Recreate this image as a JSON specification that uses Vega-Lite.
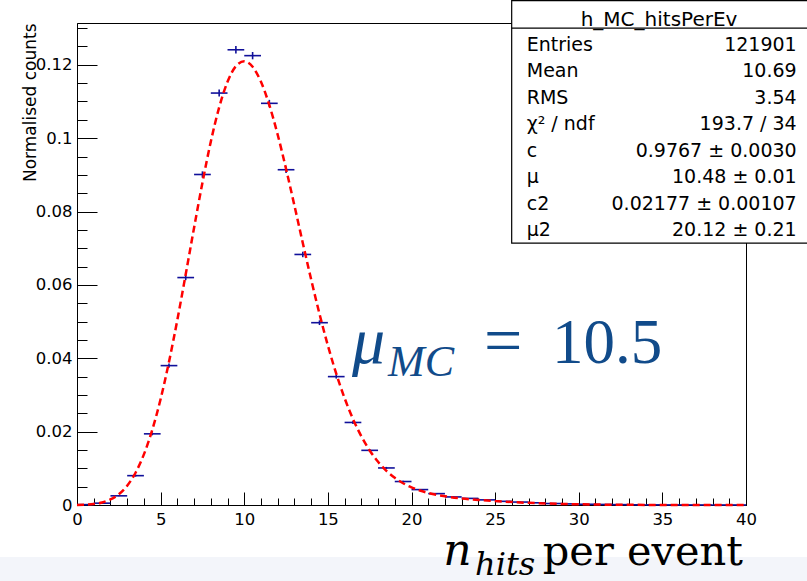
{
  "$schema": "https://vega.github.io/schema/vega-lite/v6.json",
  "width": 669,
  "height": 482,
  "autosize": {"type": "none"},
  "padding": {"left": 77, "top": 23, "right": 61, "bottom": 76},
  "background": "white",
  "config": {"view": {"stroke": "black", "strokeWidth": 1}, "axis": {"grid": false}},
  "datasets": {
    "hist": [
      {"lo": 0, "hi": 1, "c": 0.5, "y": 0.0001, "err": 0.00003},
      {"lo": 1, "hi": 2, "c": 1.5, "y": 0.0005, "err": 0.00006},
      {"lo": 2, "hi": 3, "c": 2.5, "y": 0.0025, "err": 0.00014},
      {"lo": 3, "hi": 4, "c": 3.5, "y": 0.0080, "err": 0.00026},
      {"lo": 4, "hi": 5, "c": 4.5, "y": 0.0194, "err": 0.00040},
      {"lo": 5, "hi": 6, "c": 5.5, "y": 0.0380, "err": 0.00056},
      {"lo": 6, "hi": 7, "c": 6.5, "y": 0.0620, "err": 0.00071},
      {"lo": 7, "hi": 8, "c": 7.5, "y": 0.0901, "err": 0.00086},
      {"lo": 8, "hi": 9, "c": 8.5, "y": 0.1123, "err": 0.00096},
      {"lo": 9, "hi": 10, "c": 9.5, "y": 0.1241, "err": 0.00101},
      {"lo": 10, "hi": 11, "c": 10.5, "y": 0.1225, "err": 0.00100},
      {"lo": 11, "hi": 12, "c": 11.5, "y": 0.1095, "err": 0.00095},
      {"lo": 12, "hi": 13, "c": 12.5, "y": 0.0914, "err": 0.00087},
      {"lo": 13, "hi": 14, "c": 13.5, "y": 0.0683, "err": 0.00075},
      {"lo": 14, "hi": 15, "c": 14.5, "y": 0.0497, "err": 0.00064},
      {"lo": 15, "hi": 16, "c": 15.5, "y": 0.0350, "err": 0.00054},
      {"lo": 16, "hi": 17, "c": 16.5, "y": 0.0225, "err": 0.00043},
      {"lo": 17, "hi": 18, "c": 17.5, "y": 0.0149, "err": 0.00035},
      {"lo": 18, "hi": 19, "c": 18.5, "y": 0.0101, "err": 0.00029},
      {"lo": 19, "hi": 20, "c": 19.5, "y": 0.0064, "err": 0.00023},
      {"lo": 20, "hi": 21, "c": 20.5, "y": 0.0042, "err": 0.00019},
      {"lo": 21, "hi": 22, "c": 21.5, "y": 0.0031, "err": 0.00016},
      {"lo": 22, "hi": 23, "c": 22.5, "y": 0.0022, "err": 0.00013},
      {"lo": 23, "hi": 24, "c": 23.5, "y": 0.0018, "err": 0.00012},
      {"lo": 24, "hi": 25, "c": 24.5, "y": 0.0014, "err": 0.00011},
      {"lo": 25, "hi": 26, "c": 25.5, "y": 0.0010, "err": 0.00009},
      {"lo": 26, "hi": 27, "c": 26.5, "y": 0.0008, "err": 0.00008},
      {"lo": 27, "hi": 28, "c": 27.5, "y": 0.0006, "err": 0.00007},
      {"lo": 28, "hi": 29, "c": 28.5, "y": 0.0004, "err": 0.00006},
      {"lo": 29, "hi": 30, "c": 29.5, "y": 0.0003, "err": 0.00005},
      {"lo": 30, "hi": 31, "c": 30.5, "y": 0.0002, "err": 0.00004},
      {"lo": 31, "hi": 32, "c": 31.5, "y": 0.00015, "err": 0.000035},
      {"lo": 32, "hi": 33, "c": 32.5, "y": 0.0001, "err": 0.00003},
      {"lo": 33, "hi": 34, "c": 33.5, "y": 0.00006, "err": 0.00002},
      {"lo": 34, "hi": 35, "c": 34.5, "y": 0.00004, "err": 0.00002},
      {"lo": 35, "hi": 36, "c": 35.5, "y": 0.00002, "err": 0.00001},
      {"lo": 36, "hi": 37, "c": 36.5, "y": 0.00001, "err": 0.00001},
      {"lo": 37, "hi": 38, "c": 37.5, "y": 0.00001, "err": 0.00001},
      {"lo": 38, "hi": 39, "c": 38.5, "y": 0.000005, "err": 0.000006},
      {"lo": 39, "hi": 40, "c": 39.5, "y": 0.000005, "err": 0.000006}
    ],
    "fit": [
      {"x": 0, "f": 0.0000274}, {"x": 0.5, "f": 0.0001003}, {"x": 1, "f": 0.0002875}, {"x": 1.5, "f": 0.0007},
      {"x": 2, "f": 0.001506}, {"x": 2.5, "f": 0.002937}, {"x": 3, "f": 0.005265}, {"x": 3.5, "f": 0.00879},
      {"x": 4, "f": 0.01379}, {"x": 4.5, "f": 0.02047}, {"x": 5, "f": 0.02891}, {"x": 5.5, "f": 0.03902},
      {"x": 6, "f": 0.05047}, {"x": 6.5, "f": 0.0629}, {"x": 7, "f": 0.07558}, {"x": 7.5, "f": 0.08787},
      {"x": 8, "f": 0.09904}, {"x": 8.5, "f": 0.1084}, {"x": 9, "f": 0.11538}, {"x": 9.5, "f": 0.11962},
      {"x": 10, "f": 0.12097}, {"x": 10.5, "f": 0.11946}, {"x": 11, "f": 0.11536}, {"x": 11.5, "f": 0.10901},
      {"x": 12, "f": 0.10093}, {"x": 12.5, "f": 0.09162}, {"x": 13, "f": 0.08163}, {"x": 13.5, "f": 0.07144},
      {"x": 14, "f": 0.06149}, {"x": 14.5, "f": 0.05208}, {"x": 15, "f": 0.04348}, {"x": 15.5, "f": 0.03581},
      {"x": 16, "f": 0.02913}, {"x": 16.5, "f": 0.02347}, {"x": 17, "f": 0.01874}, {"x": 17.5, "f": 0.01487},
      {"x": 18, "f": 0.01179}, {"x": 18.5, "f": 0.00932}, {"x": 19, "f": 0.00742}, {"x": 19.5, "f": 0.00593},
      {"x": 20, "f": 0.00482}, {"x": 20.5, "f": 0.00395}, {"x": 21, "f": 0.00329}, {"x": 22, "f": 0.00238},
      {"x": 23, "f": 0.00179}, {"x": 24, "f": 0.00138}, {"x": 25, "f": 0.00106}, {"x": 26, "f": 0.000797},
      {"x": 27, "f": 0.000586}, {"x": 28, "f": 0.000418}, {"x": 29, "f": 0.00029}, {"x": 30, "f": 0.000195},
      {"x": 31, "f": 0.000126}, {"x": 32, "f": 0.00008}, {"x": 33, "f": 0.000049}, {"x": 34, "f": 0.000029},
      {"x": 35, "f": 0.000016}, {"x": 36, "f": 0.000009}, {"x": 37, "f": 0.000005}, {"x": 38, "f": 0.000003},
      {"x": 39, "f": 0.0000015}, {"x": 40, "f": 0.0000008}
    ],
    "stats": [
      {"row": 1, "label": "Entries", "value": "121901"},
      {"row": 2, "label": "Mean", "value": "10.69"},
      {"row": 3, "label": "RMS", "value": "3.54"},
      {"row": 4, "label": "χ² / ndf", "value": "193.7 / 34"},
      {"row": 5, "label": "c", "value": "0.9767 ± 0.0030"},
      {"row": 6, "label": "μ", "value": "10.48 ± 0.01"},
      {"row": 7, "label": "c2", "value": "0.02177 ± 0.00107"},
      {"row": 8, "label": "μ2", "value": "20.12 ± 0.21"}
    ]
  },
  "resolve": {"scale": {"y": "independent"}},
  "layer": [
    {
      "resolve": {"axis": {"x": "independent", "y": "independent"}},
      "layer": [
        {
          "data": {"name": "hist"},
          "mark": {"type": "rule", "color": "#10109a", "strokeWidth": 1.6},
          "encoding": {
            "x": {
              "field": "lo", "type": "quantitative",
              "scale": {"domain": [0, 40], "nice": false, "zero": false},
              "axis": {
                "orient": "bottom",
                "values": [0, 5, 10, 15, 20, 25, 30, 35, 40],
                "format": "d",
                "tickSize": -13,
                "tickColor": "black", "tickWidth": 1,
                "domainColor": "black", "domainWidth": 1,
                "grid": false, "title": null,
                "labelFont": "DejaVu Sans", "labelFontSize": 16.5, "labelColor": "black",
                "labelPadding": 19, "labelFlush": false, "labelOverlap": false, "labelBound": false
              }
            },
            "x2": {"field": "hi"},
            "y": {
              "field": "y", "type": "quantitative",
              "scale": {"domain": [0, 0.1314], "nice": false, "zero": false},
              "axis": {
                "orient": "left",
                "values": [0, 0.02, 0.04, 0.06, 0.08, 0.1, 0.12],
                "format": ".2~f",
                "tickSize": -20,
                "tickColor": "black", "tickWidth": 1,
                "domainColor": "black", "domainWidth": 1,
                "grid": false,
                "labelFont": "DejaVu Sans", "labelFontSize": 16.5, "labelColor": "black",
                "labelPadding": 25, "labelFlush": false, "labelOverlap": false, "labelBound": false,
                "title": "Normalised counts",
                "titleFont": "DejaVu Sans", "titleFontSize": 17, "titleFontWeight": "normal", "titleColor": "black",
                "titleAngle": 270, "titleAlign": "right", "titleBaseline": "alphabetic",
                "titleX": -42, "titleY": 0
              }
            }
          }
        },
        {
          "data": {"name": "fit"},
          "mark": {"type": "line", "color": "#ff0000", "strokeWidth": 2.5, "strokeDash": [7, 4], "interpolate": "monotone", "opacity": 0},
          "encoding": {
            "x": {
              "field": "x", "type": "quantitative", "scale": {"domain": [0, 40], "nice": false, "zero": false},
              "axis": {
                "orient": "top", "offset": -482,
                "values": [0,1,2,3,4,5,6,7,8,9,10,11,12,13,14,15,16,17,18,19,20,21,22,23,24,25,26,27,28,29,30,31,32,33,34,35,36,37,38,39,40],
                "tickSize": 7, "tickColor": "black", "tickWidth": 1,
                "labels": false, "domain": false, "grid": false, "title": null
              }
            },
            "y": {
              "field": "f", "type": "quantitative", "scale": {"domain": [0, 0.1314], "nice": false, "zero": false},
              "axis": {
                "orient": "right", "offset": -669,
                "values": [0,0.005,0.01,0.015,0.02,0.025,0.03,0.035,0.04,0.045,0.05,0.055,0.06,0.065,0.07,0.075,0.08,0.085,0.09,0.095,0.1,0.105,0.11,0.115,0.12,0.125,0.13],
                "tickSize": 10, "tickColor": "black", "tickWidth": 1,
                "labels": false, "domain": false, "grid": false, "title": null
              }
            }
          }
        },
        {
          "data": {"values": [{}]},
          "mark": {"type": "rect", "fill": "#f3f5fa", "strokeWidth": 0},
          "encoding": {
            "x": {"datum": -5, "type": "quantitative", "scale": {"domain": [0, 40], "nice": false, "zero": false}, "axis": null},
            "x2": {"datum": 45},
            "y": {"datum": -0.0142, "type": "quantitative", "scale": {"domain": [0, 0.1314], "nice": false, "zero": false}, "axis": null},
            "y2": {"datum": -0.03}
          }
        },
        {
          "data": {"name": "hist"},
          "mark": {"type": "errorbar", "color": "#10109a", "thickness": 1.6},
          "encoding": {
            "x": {"field": "c", "type": "quantitative", "scale": {"domain": [0, 40], "nice": false, "zero": false}, "axis": null},
            "y": {"field": "y", "type": "quantitative", "scale": {"domain": [0, 0.1314], "nice": false, "zero": false}, "axis": null, "title": "Normalised counts"},
            "yError": {"field": "err"}
          }
        },
        {
          "data": {"name": "fit"},
          "mark": {"type": "line", "color": "#ff0000", "strokeWidth": 2.5, "strokeDash": [7, 4], "interpolate": "monotone"},
          "encoding": {
            "x": {"field": "x", "type": "quantitative", "scale": {"domain": [0, 40], "nice": false, "zero": false}, "axis": null},
            "y": {"field": "f", "type": "quantitative", "scale": {"domain": [0, 0.1314], "nice": false, "zero": false}, "axis": null}
          }
        },
        {
          "data": {"values": [{}]},
          "mark": {"type": "rect", "fill": "white", "stroke": "black", "strokeWidth": 1.2},
          "encoding": {
            "x": {"datum": 25.99, "type": "quantitative", "scale": {"domain": [0, 40], "nice": false, "zero": false}, "axis": null},
            "x2": {"datum": 44.5},
            "y": {"datum": 0.1375, "type": "quantitative", "scale": {"domain": [0, 0.1314], "nice": false, "zero": false}, "axis": null},
            "y2": {"datum": 0.0714}
          }
        },
        {
          "data": {"values": [{}]},
          "mark": {"type": "rule", "color": "black", "strokeWidth": 1.2},
          "encoding": {
            "x": {"datum": 25.99, "type": "quantitative", "scale": {"domain": [0, 40], "nice": false, "zero": false}, "axis": null},
            "x2": {"datum": 44.5},
            "y": {"datum": 0.1300, "type": "quantitative", "scale": {"domain": [0, 0.1314], "nice": false, "zero": false}, "axis": null}
          }
        },
        {
          "data": {"values": [{}]},
          "mark": {"type": "text", "text": "h_MC_hitsPerEv", "font": "DejaVu Sans", "fontSize": 20, "color": "black", "align": "center", "baseline": "alphabetic"},
          "encoding": {
            "x": {"datum": 34.8, "type": "quantitative", "scale": {"domain": [0, 40], "nice": false, "zero": false}, "axis": null},
            "y": {"datum": 0.13058, "type": "quantitative", "scale": {"domain": [0, 0.1314], "nice": false, "zero": false}, "axis": null}
          }
        },
        {
          "data": {"values": [{}]},
          "mark": {"type": "text", "text": "μ", "font": "Liberation Serif", "fontStyle": "italic", "fontSize": 66, "color": "#114b8a", "align": "left", "baseline": "alphabetic"},
          "encoding": {
            "x": {"datum": 16.44, "type": "quantitative", "scale": {"domain": [0, 40], "nice": false, "zero": false}, "axis": null},
            "y": {"datum": 0.0387, "type": "quantitative", "scale": {"domain": [0, 0.1314], "nice": false, "zero": false}, "axis": null}
          }
        },
        {
          "data": {"values": [{}]},
          "mark": {"type": "text", "text": "MC", "font": "Liberation Serif", "fontStyle": "italic", "fontSize": 44, "color": "#114b8a", "align": "left", "baseline": "alphabetic"},
          "encoding": {
            "x": {"datum": 18.6, "type": "quantitative", "scale": {"domain": [0, 40], "nice": false, "zero": false}, "axis": null},
            "y": {"datum": 0.03517, "type": "quantitative", "scale": {"domain": [0, 0.1314], "nice": false, "zero": false}, "axis": null}
          }
        },
        {
          "data": {"values": [{}]},
          "mark": {"type": "text", "text": "=", "font": "Liberation Serif", "fontSize": 68, "color": "#114b8a", "align": "left", "baseline": "alphabetic"},
          "encoding": {
            "x": {"datum": 24.33, "type": "quantitative", "scale": {"domain": [0, 40], "nice": false, "zero": false}, "axis": null},
            "y": {"datum": 0.03863, "type": "quantitative", "scale": {"domain": [0, 0.1314], "nice": false, "zero": false}, "axis": null}
          }
        },
        {
          "data": {"values": [{}]},
          "mark": {"type": "text", "text": "10.5", "font": "Liberation Serif", "fontSize": 63, "color": "#114b8a", "align": "left", "baseline": "alphabetic"},
          "encoding": {
            "x": {"datum": 28.4, "type": "quantitative", "scale": {"domain": [0, 40], "nice": false, "zero": false}, "axis": null},
            "y": {"datum": 0.03863, "type": "quantitative", "scale": {"domain": [0, 0.1314], "nice": false, "zero": false}, "axis": null}
          }
        },
        {
          "data": {"values": [{}]},
          "mark": {"type": "text", "text": "n", "font": "DejaVu Serif", "fontStyle": "italic", "fontSize": 44, "color": "black", "align": "left", "baseline": "alphabetic"},
          "encoding": {
            "x": {"datum": 21.9, "type": "quantitative", "scale": {"domain": [0, 40], "nice": false, "zero": false}, "axis": null},
            "y": {"datum": -0.01636, "type": "quantitative", "scale": {"domain": [0, 0.1314], "nice": false, "zero": false}, "axis": null}
          }
        },
        {
          "data": {"values": [{}]},
          "mark": {"type": "text", "text": "hits", "font": "DejaVu Serif", "fontStyle": "italic", "fontSize": 32, "color": "black", "align": "left", "baseline": "alphabetic"},
          "encoding": {
            "x": {"datum": 23.8, "type": "quantitative", "scale": {"domain": [0, 40], "nice": false, "zero": false}, "axis": null},
            "y": {"datum": -0.0191, "type": "quantitative", "scale": {"domain": [0, 0.1314], "nice": false, "zero": false}, "axis": null}
          }
        },
        {
          "data": {"values": [{}]},
          "mark": {"type": "text", "text": "per event", "font": "DejaVu Serif", "fontSize": 41.5, "color": "black", "align": "left", "baseline": "alphabetic"},
          "encoding": {
            "x": {"datum": 27.85, "type": "quantitative", "scale": {"domain": [0, 40], "nice": false, "zero": false}, "axis": null},
            "y": {"datum": -0.01636, "type": "quantitative", "scale": {"domain": [0, 0.1314], "nice": false, "zero": false}, "axis": null}
          }
        }
      ]
    },
    {
      "data": {"name": "stats"},
      "layer": [
        {
          "mark": {"type": "text", "align": "left", "baseline": "alphabetic", "font": "DejaVu Sans", "fontSize": 19, "color": "black"},
          "encoding": {
            "x": {"datum": 26.89, "type": "quantitative", "scale": {"domain": [0, 40], "nice": false, "zero": false}, "axis": null},
            "y": {"field": "row", "type": "ordinal", "scale": {"type": "point", "range": [27.7, 213.2], "padding": 0}, "axis": null},
            "text": {"field": "label"}
          }
        },
        {
          "mark": {"type": "text", "align": "right", "baseline": "alphabetic", "font": "DejaVu Sans", "fontSize": 19, "color": "black"},
          "encoding": {
            "x": {"datum": 43.03, "type": "quantitative", "scale": {"domain": [0, 40], "nice": false, "zero": false}, "axis": null},
            "y": {"field": "row", "type": "ordinal", "scale": {"type": "point", "range": [27.7, 213.2], "padding": 0}, "axis": null},
            "text": {"field": "value"}
          }
        }
      ]
    }
  ]
}
